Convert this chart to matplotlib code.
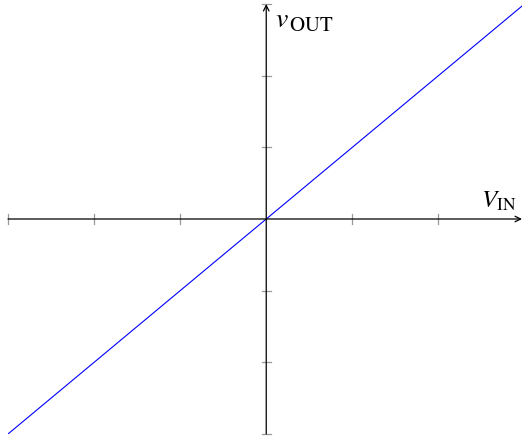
import numpy as np
import matplotlib
matplotlib.use('Agg')
import matplotlib.pyplot as plt

plt.rcParams['mathtext.fontset'] = 'stix'

# transfer curve of the unity-gain buffer
v_in = [-3, 3]
v_out = [-3, 3]
x_ticks = [-3, -2, -1, 1, 2]
y_ticks = [-3, -2, -1, 1, 2, 3]

W, H = 524, 439
fig = plt.figure(figsize=(W/100., H/100.), dpi=100)
# x axis runs from pixel 8 to 522, y axis from pixel 5 to 435
ax = fig.add_axes([8./W, (H-435.)/H, 514./W, 430./H])
xmin, xmax = -3, 3*(514./519.)
ymin, ymax = -3, 3
ax.set_xlim(xmin, xmax)
ax.set_ylim(ymin, ymax)
ax.axis('off')

ax.plot(v_in, v_out, color='blue', lw=0.8, clip_on=True)

# axes with arrows
ax.annotate('', xy=(xmax, 0), xytext=(xmin, 0), annotation_clip=False,
	arrowprops=dict(arrowstyle='->', lw=0.9, color='black', shrinkA=0, shrinkB=0))
ax.annotate('', xy=(0, ymax), xytext=(0, ymin), annotation_clip=False,
	arrowprops=dict(arrowstyle='->', lw=0.9, color='black', shrinkA=0, shrinkB=0))

# gray ticks
for t in x_ticks:
	ax.plot([t, t], [-0.07, 0.07], color='#999999', lw=0.9, clip_on=False)
for t in y_ticks:
	ax.plot([-0.055, 0.055], [t, t], color='#999999', lw=0.9, clip_on=False)

# v_OUT: letter and subscript set separately so the subscript can be larger
ax.annotate(r'$v$', xy=(0, ymax), xytext=(6.5, -15.8), textcoords='offset points',
	ha='left', va='baseline', fontsize=20)
ax.annotate(r'$\mathrm{OUT}$', xy=(0, ymax), xytext=(16.6, -18.7), textcoords='offset points',
	ha='left', va='baseline', fontsize=15)
ax.annotate(r'$V_{\mathrm{IN}}$', xy=(xmax, 0), xytext=(-4, 5), textcoords='offset points',
	ha='right', va='bottom', fontsize=18)

fig.savefig('out.png', dpi=100)
